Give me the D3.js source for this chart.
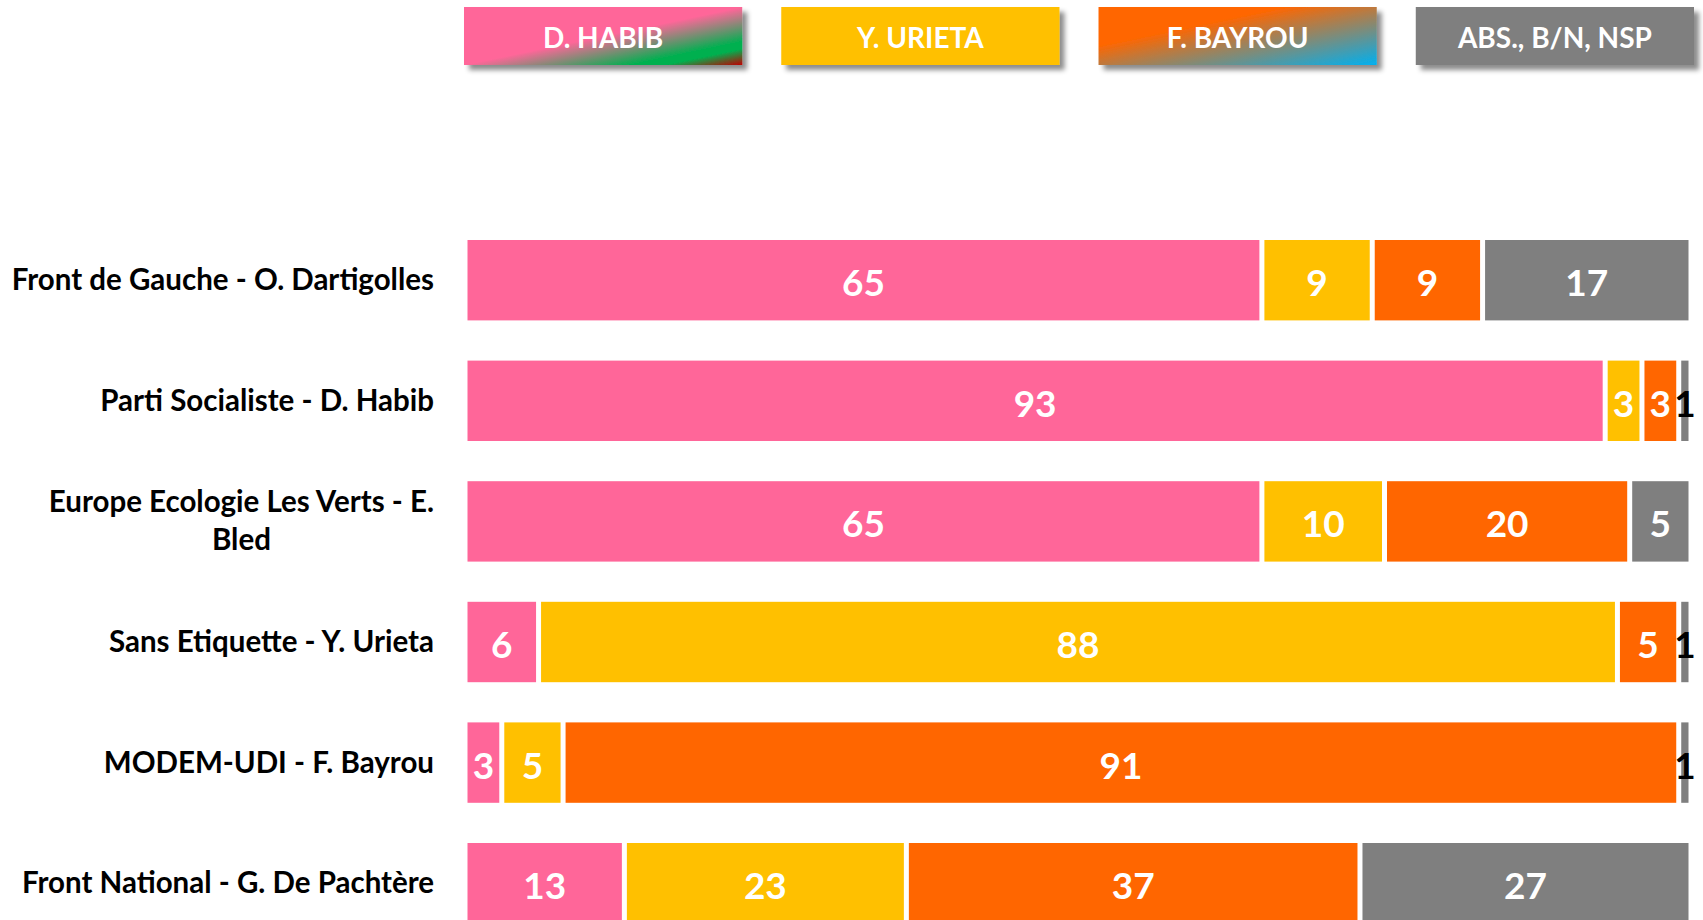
<!DOCTYPE html>
<html>
<head>
<meta charset="utf-8">
<script src="https://cdn.jsdelivr.net/npm/d3@7"></script>
<style>
  html, body { margin: 0; padding: 0; background: #fff; overflow: hidden; }
  svg { display: block; font-family: Lato, "Open Sans", sans-serif; }
</style>
</head>
<body>
<svg id="chart" width="1703" height="920"></svg>
<script>
// ---- Data ----
const categories = [
  ["Front de Gauche - O. Dartigolles"],
  ["Parti Socialiste - D. Habib"],
  ["Europe Ecologie Les Verts - E.", "Bled"],
  ["Sans Etiquette - Y. Urieta"],
  ["MODEM-UDI - F. Bayrou"],
  ["Front National - G. De Pachtère"]
];
const seriesNames = ["D. HABIB", "Y. URIETA", "F. BAYROU", "ABS., B/N, NSP"];
const habib  = [65, 93, 65, 6, 3, 13];
const urieta = [9, 3, 10, 88, 5, 23];
const bayrou = [9, 3, 20, 5, 91, 37];
const abs    = [17, 1, 5, 1, 1, 27];
const seriesValues = [habib, urieta, bayrou, abs];
const colors = ["#FF6699", "#FFC000", "#FF6600", "#7F7F7F"];

// ---- Layout ----
const svg = d3.select("#chart");
const keys = categories.map(c => c.join(" "));
const x = d3.scaleLinear().domain([0, 100]).range([465, 1691]);
const y = d3.scaleBand().domain(keys).range([240, 923.4]).paddingInner(1/3).paddingOuter(0);

const defs = svg.append("defs");
const f = defs.append("filter").attr("id", "shadow").attr("x", "-10%").attr("y", "-20%").attr("width", "130%").attr("height", "160%");
f.append("feDropShadow").attr("dx", 5).attr("dy", 5).attr("stdDeviation", 2.5)
  .attr("flood-color", "#000").attr("flood-opacity", 0.45);

const g1 = defs.append("linearGradient").attr("id", "gradHabib")
  .attr("x1", 0).attr("y1", 0).attr("x2", 1).attr("y2", 1);
[[0, "#FF6699"], [0.5, "#FF6699"], [0.8, "#00B050"], [0.86, "#00B050"], [1, "#C00000"]]
  .forEach(([o, c]) => g1.append("stop").attr("offset", o).attr("stop-color", c));
const g2 = defs.append("linearGradient").attr("id", "gradBayrou")
  .attr("x1", 0).attr("y1", 0).attr("x2", 1).attr("y2", 1);
[[0, "#FF6600"], [0.33, "#FF6600"], [1, "#00B0F0"]]
  .forEach(([o, c]) => g2.append("stop").attr("offset", o).attr("stop-color", c));
const legendFills = ["url(#gradHabib)", colors[1], "url(#gradBayrou)", colors[3]];

// ---- Legend ----
const legend = d3.scaleBand().domain(seriesNames).range([464, 1694]).paddingInner(39/317).paddingOuter(0);
const lg = svg.append("g").selectAll("g").data(seriesNames).join("g")
  .attr("transform", d => `translate(${legend(d)},7)`);
lg.append("rect").attr("width", legend.bandwidth()).attr("height", 58)
  .attr("fill", (d, i) => legendFills[i]).attr("filter", "url(#shadow)");
lg.append("text").attr("x", legend.bandwidth() / 2).attr("y", 41)
  .attr("text-anchor", "middle").attr("fill", "#fff")
  .attr("font-weight", 700).attr("font-size", 28).text(d => d);

// ---- Stack ----
const rows = keys.map((k, i) => {
  let acc = 0;
  return seriesValues.map((vals, s) => {
    const d = { key: k, s, v: vals[i], x0: acc, x1: acc + vals[i] };
    acc += vals[i];
    return d;
  });
}).flat();

const inset = 2.5;
const bars = svg.append("g");
bars.selectAll("rect").data(rows).join("rect")
  .attr("x", d => x(d.x0) + inset)
  .attr("width", d => Math.max(0, x(d.x1) - x(d.x0) - 2 * inset))
  .attr("y", d => y(d.key))
  .attr("height", y.bandwidth())
  .attr("fill", d => colors[d.s]);

bars.selectAll("text").data(rows).join("text")
  .attr("x", d => (x(d.x0) + x(d.x1)) / 2)
  .attr("y", d => y(d.key) + y.bandwidth() / 2 + 16)
  .attr("text-anchor", "middle")
  .attr("font-weight", 700).attr("font-size", 37)
  .attr("fill", d => d.v < 2 ? "#000" : "#fff")
  .text(d => d.v);

// ---- Category labels ----
const labelG = svg.append("g");
const fs = 29.5;
categories.forEach((lines, i) => {
  const cy = y(keys[i]) + y.bandwidth() / 2;
  const lh = 38;
  const t0 = cy - (lines.length - 1) * lh / 2;
  const first = labelG.append("text").attr("x", 434).attr("y", t0 + 10)
    .attr("text-anchor", "end").attr("font-weight", 700).attr("font-size", fs)
    .attr("fill", "#000").text(lines[0]);
  if (lines.length > 1) {
    const w = first.node().getComputedTextLength();
    for (let j = 1; j < lines.length; j++) {
      labelG.append("text").attr("x", 434 - w / 2).attr("y", t0 + j * lh + 10)
        .attr("text-anchor", "middle").attr("font-weight", 700).attr("font-size", fs)
        .attr("fill", "#000").text(lines[j]);
    }
  }
});
</script>
</body>
</html>
